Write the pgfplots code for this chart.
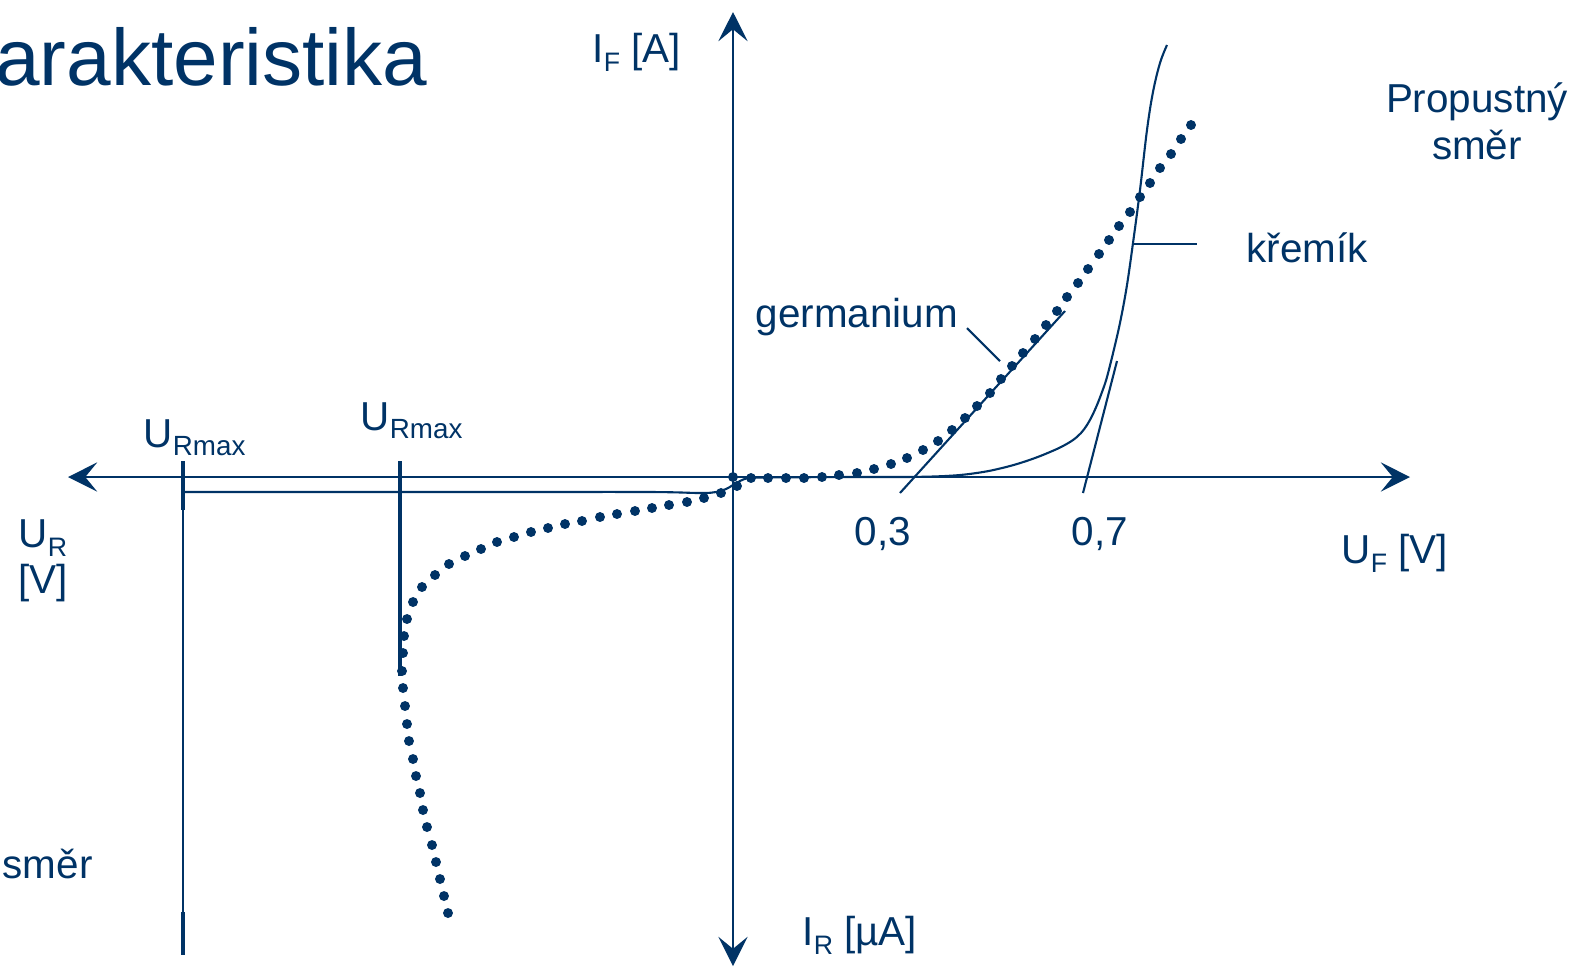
\documentclass[border=0pt]{standalone}
\usepackage{fontspec}
\setmainfont{Liberation Sans}
\usepackage{pgfplots}
\pgfplotsset{compat=1.18}
\usetikzlibrary{arrows.meta}
\definecolor{navy}{RGB}{0,51,102}
\newcommand{\lbl}{\fontsize{11.5}{13.8}\selectfont}
\newcommand{\sub}[1]{\raisebox{-2.7pt}{\fontsize{7.6}{9}\selectfont #1}}
\newcommand{\subR}[1]{\raisebox{-2.4pt}{\fontsize{7.9}{9}\selectfont #1}}
\tikzset{lab/.style={text=navy, font=\lbl, inner sep=0pt}}

\begin{document}
\begin{tikzpicture}
\begin{axis}[
  scale only axis, width=15.75cm, height=9.68cm,
  xmin=0, xmax=1575, ymin=0, ymax=968, y dir=reverse,
  hide axis, clip=false,
  >={Stealth[length=8.3pt,width=8.3pt,inset=3.4pt]},
]
% axes
\addplot[navy, line width=0.7pt, <->] coordinates {(68,477) (1410,477)};
\addplot[navy, line width=0.7pt, <->] coordinates {(733,12) (733,966)};

% U_Rmax lines
\addplot[navy, line width=0.5pt] coordinates {(183,461) (183,955)};
\addplot[navy, line width=1pt] coordinates {(183,461) (183,510)};
\addplot[navy, line width=1pt] coordinates {(183,912) (183,955)};
\addplot[navy, line width=1pt] coordinates {(400,461) (400,676)};

% silicon characteristic
\addplot[navy, line width=0.6pt, smooth, tension=0.6] coordinates {
(185,492) (300,492) (500,492) (650,492) (700,493) (716,492) (726,489) (733,485)
(740,481) (748,478) (760,477.5) (850,477) (900,477) (933,476.5) (960,475) (983,472)
(1000,468.5) (1017,464) (1035,458) (1050,452) (1062,446.5) (1073,440) (1081,433)
(1087,425) (1092,416) (1097,405) (1102,392) (1107,377) (1115,345) (1121,318)
(1127,285) (1133,243) (1140,190) (1147,130) (1153,92) (1160,63) (1167,45)};

% tangents and leader lines
\addplot[navy, line width=0.6pt] coordinates {(900,493) (1065,311)};
\addplot[navy, line width=0.6pt] coordinates {(1083,493) (1117,361)};
\addplot[navy, line width=0.6pt] coordinates {(967,328) (1000,361)};
\addplot[navy, line width=0.7pt] coordinates {(1133,244) (1197,244)};

% germanium characteristic (dotted)
\addplot[navy, only marks, mark=*, mark size=1.2pt, mark options={fill=navy, draw=navy}] coordinates {
(448,913) (444,896) (440,879) (436,862) (432,845) (427,827) (423,810) (420,793)
(416,776) (413,759) (409,741) (407,724) (405,706) (403,688) (402,671) (403,653)
(404,636) (407,619) (413,602) (422,587) (435,575) (449,564) (465,556) (481,549)
(497,542) (514,537) (531,532) (548,528) (565,524) (582,521) (600,517) (617,514)
(635,511) (652,508) (669,505) (687,502) (704,498) (721,493) (737,486) (733,477)
(751,478) (768,478) (786,478) (804,478) (822,477) (839,475) (857,473) (874,469)
(891,464) (907,458) (923,450) (938,441) (952,430) (965,418) (977,406) (990,393)
(1001,379) (1012,366) (1023,353) (1035,339) (1046,325) (1057,311) (1067,297)
(1078,283) (1088,269) (1099,254) (1109,240) (1119,226) (1130,212) (1140,197)
(1150,183) (1160,168) (1171,154) (1181,139) (1191,125)};

% texts
\node[lab, anchor=base east, font=\fontsize{22.8}{27}\selectfont] at (axis cs:428,85) {arakteristika};
\node[lab, anchor=base west] at (axis cs:592,62) {I\sub{F} [A]};
\node[lab, anchor=base] at (axis cs:1477,112) {Propustný};
\node[lab, anchor=base] at (axis cs:1477,159) {směr};
\node[lab, anchor=base west] at (axis cs:1246,262) {křemík};
\node[lab, anchor=base west] at (axis cs:755,327) {germanium};
\node[lab, anchor=base] at (axis cs:883,545) {0,3};
\node[lab, anchor=base] at (axis cs:1100,545) {0,7};
\node[lab, anchor=base west] at (axis cs:1341,563) {U\sub{F} [V]};
\node[lab, anchor=base west] at (axis cs:18,547) {U\sub{R}};
\node[lab, anchor=base west] at (axis cs:18,593) {[V]};
\node[lab, anchor=base west] at (axis cs:143,447) {U\subR{Rmax}};
\node[lab, anchor=base west] at (axis cs:360,430) {U\subR{Rmax}};
\node[lab, anchor=base west] at (axis cs:802,945) {I\sub{R} [µA]};
\node[lab, anchor=base west] at (axis cs:2,878) {směr};
\end{axis}
\pgfresetboundingbox
\path[use as bounding box] (current axis.south west) rectangle (current axis.north east);
\end{tikzpicture}
\end{document}
